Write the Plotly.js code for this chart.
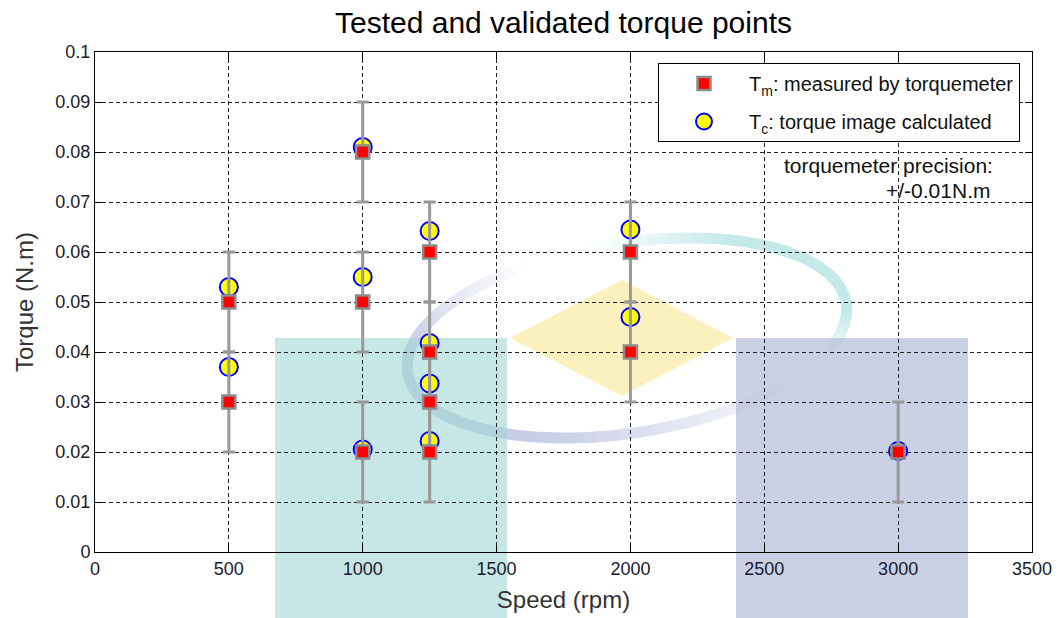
<!DOCTYPE html>
<html>
<head>
<meta charset="utf-8">
<script src="https://cdn.plot.ly/plotly-3.0.1.min.js"></script>
<style>html,body{margin:0;padding:0;background:#fff;}#chart{width:1059px;height:618px;}</style>
</head>
<body>
<div id="chart"></div>
<script>
// ---- data ----
const measuredSpeed  = [500, 500, 1000, 1000, 1000, 1250, 1250, 1250, 1250, 2000, 2000, 3000];
const measuredTorque = [0.05, 0.03, 0.08, 0.05, 0.02, 0.06, 0.04, 0.03, 0.02, 0.06, 0.04, 0.02];
const calcSpeed      = [500, 500, 1000, 1000, 1000, 1250, 1250, 1250, 1250, 2000, 2000, 3000];
const calcTorque     = [0.053, 0.037, 0.081, 0.055, 0.0205, 0.0642, 0.0418, 0.0337, 0.0222, 0.0645, 0.047, 0.0202];
const precision = 0.01;
const xTicks = [0, 500, 1000, 1500, 2000, 2500, 3000, 3500];
const yTicks = [0, 0.01, 0.02, 0.03, 0.04, 0.05, 0.06, 0.07, 0.08, 0.09, 0.1];
const yTickText = ['0', '0.01', '0.02', '0.03', '0.04', '0.05', '0.06', '0.07', '0.08', '0.09', '0.1'];

// ---- background watermark (decoration, in paper units) ----
const L = 95, R = 1032, T = 52, B = 552;
const px = x => (x - L) / (R - L);
const py = y => (B - y) / (B - T);
const shapes = [];
// swoosh ellipse (drawn first, under the blocks)
const cx = 627, cy = 338, ea = 222, eb = 95, rot = -9 * Math.PI / 180;
function ept(tdeg) {
  const t = tdeg * Math.PI / 180;
  const x = cx + ea * Math.cos(t) * Math.cos(rot) - eb * Math.sin(t) * Math.sin(rot);
  const y = cy + ea * Math.cos(t) * Math.sin(rot) + eb * Math.sin(t) * Math.cos(rot);
  return [x, y];
}
function ramp(t, a0, a1, a2, a3) {
  if (t <= a0 || t >= a3) return 0;
  if (t < a1) return (t - a0) / (a1 - a0);
  if (t > a2) return (a3 - t) / (a3 - a2);
  return 1;
}
function blend(c, a) {
  return 'rgb(' + c.map(v => Math.round(255 - (255 - v) * a)).join(',') + ')';
}
const STEP = 3;
for (let t = 30; t < 400; t += STEP) {
  const p0 = ept(t), p1 = ept(t + STEP + 0.3);
  const lav = ramp(t, 40, 115, 195, 245) * 0.6;
  const tea = ramp(t, 262, 300, 365, 392) * 0.55;
  let col = null;
  if (lav > 0.01) col = blend([165, 172, 215], lav);
  else if (tea > 0.01) col = blend([150, 215, 215], tea);
  if (!col) continue;
  shapes.push({type: 'path', xref: 'paper', yref: 'paper', layer: 'below',
    path: `M${px(p0[0])},${py(p0[1])} L${px(p1[0])},${py(p1[1])}`,
    line: {color: col, width: 11}});
}
shapes.push({type: 'rect', xref: 'paper', yref: 'paper', layer: 'below',
  x0: px(275), x1: px(507), y0: py(618), y1: py(338),
  fillcolor: 'rgba(160,215,212,0.6)', line: {width: 0}});
shapes.push({type: 'rect', xref: 'paper', yref: 'paper', layer: 'below',
  x0: px(736), x1: px(968), y0: py(618), y1: py(338),
  fillcolor: 'rgba(170,180,212,0.62)', line: {width: 0}});
shapes.push({type: 'path', xref: 'paper', yref: 'paper', layer: 'below',
  path: `M${px(510)},${py(338)} L${px(622)},${py(280)} L${px(733)},${py(338)} L${px(622)},${py(396)} Z`,
  fillcolor: 'rgb(251,241,190)', line: {width: 0}});

const FONT = 'Liberation Sans, Arial, sans-serif';
const traces = [
  {
    x: calcSpeed, y: calcTorque, type: 'scatter', mode: 'markers',
    name: 'T<sub>c</sub>: torque image calculated', legendgroup: 'c', legendrank: 2,
    marker: {symbol: 'circle', size: 18, color: '#ffff00', line: {color: '#0000ff', width: 2}},
    hoverinfo: 'x+y'
  },
  {
    x: measuredSpeed, y: measuredTorque, type: 'scatter', mode: 'markers',
    name: 'T<sub>m</sub>: measured by torquemeter', legendgroup: 'm', legendrank: 1,
    marker: {symbol: 'square', size: 13, color: '#ff0000', line: {color: '#8c8c8c', width: 2.5}},
    error_y: {type: 'constant', value: precision, color: '#999999', thickness: 3, width: 6},
    hoverinfo: 'x+y'
  }
];

const axisCommon = {
  showline: true, linecolor: '#000', linewidth: 1, mirror: 'ticks',
  ticks: 'inside', ticklen: 7, tickcolor: '#000', tickwidth: 1,
  showgrid: true, gridcolor: '#222', gridwidth: 1, griddash: '4px,3px',
  zeroline: false, tickfont: {family: FONT, size: 18, color: '#1a1a2e'}
};

const layout = {
  width: 1059, height: 618,
  margin: {l: L, r: 1059 - R, t: T, b: 618 - B},
  paper_bgcolor: '#fff', plot_bgcolor: 'rgba(0,0,0,0)',
  title: {text: 'Tested and validated torque points', font: {family: FONT, size: 30, color: '#000'},
    x: 0.5, xref: 'paper', xanchor: 'center', y: 0.963, yanchor: 'middle'},
  xaxis: Object.assign({}, axisCommon, {
    range: [0, 3500], tickvals: xTicks, ticktext: xTicks.map(String),
    title: {text: 'Speed (rpm)', font: {family: FONT, size: 24, color: '#333'}, standoff: 13}
  }),
  yaxis: Object.assign({}, axisCommon, {
    range: [0, 0.1], tickvals: yTicks, ticktext: yTickText,
    title: {text: 'Torque (N.m)', font: {family: FONT, size: 24, color: '#333'}, standoff: 14}
  }),
  showlegend: true,
  legend: {
    x: px(1020), xanchor: 'right', y: py(63), yanchor: 'top',
    bgcolor: '#fff', bordercolor: '#000', borderwidth: 1,
    font: {family: FONT, size: 20, color: '#111'},
    traceorder: 'grouped', tracegroupgap: 9, itemwidth: 80
  },
  annotations: [
    {xref: 'paper', yref: 'paper', x: px(995), y: py(165), xanchor: 'right', yanchor: 'middle',
      text: 'torquemeter precision:', showarrow: false, align: 'right',
      font: {family: FONT, size: 21, color: '#111'}},
    {xref: 'paper', yref: 'paper', x: px(992), y: py(190), xanchor: 'right', yanchor: 'middle',
      text: '+/-0.01N.m', showarrow: false, align: 'right',
      font: {family: FONT, size: 21, color: '#111'}}
  ],
  shapes: shapes
};

Plotly.newPlot('chart', traces, layout, {displayModeBar: false, staticPlot: true});
</script>
</body>
</html>
